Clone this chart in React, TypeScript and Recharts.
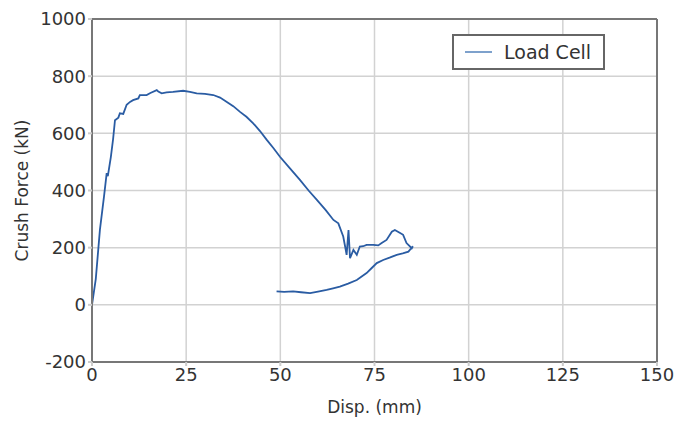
import React from 'react';
import { LineChart, Line, XAxis, YAxis, CartesianGrid, ReferenceLine } from 'recharts';

// displacement (mm) and crush force (kN), in recording order
const dispMm = [
  0, 1.0, 2.1, 3.2, 3.9, 4.2, 5.0, 5.6, 6.1, 7.0, 7.4, 8.3, 9.2, 10.1, 10.9, 12.3, 12.7,
  14.5, 15.5, 17.2, 17.6, 18.5, 19.8, 21.5, 24.2, 26.0, 27.8, 30.0, 32.2, 34.0, 35.8,
  37.5, 39.3, 41.0, 42.8, 44.6, 46.4, 48.2, 49.9, 52.5, 55.2, 57.5, 59.7, 62.0, 64.1,
  65.4, 66.7, 67.2, 67.6, 68.1, 68.5, 69.4, 70.3, 71.1, 72.0, 72.9, 74.7, 76.0, 76.9,
  78.2, 79.6, 80.4, 81.8, 82.6, 83.5, 84.9, 85.2, 84.0, 82.5, 80.9, 79.0, 77.3, 75.6,
  74.2, 72.9, 71.5, 70.3, 68.0, 65.8, 64.0, 62.3, 60.0, 57.9, 55.5, 53.4, 51.0, 49.0,
];
const forceKn = [
  0, 90, 262, 380, 461, 450, 517, 580, 646, 655, 670, 668, 700, 710, 716, 722, 734,
  734, 741, 751, 746, 740, 743, 745, 749, 745, 740, 738, 734, 725, 710,
  695, 675, 658, 635, 608, 577, 548, 518, 478, 437, 400, 367, 332, 297,
  285, 239, 204, 175, 262, 163, 192, 175, 204, 205, 210, 210, 208, 216,
  227, 256, 262, 251, 245, 216, 198, 205, 186, 180, 175, 165, 157, 146,
  128, 111, 98, 87, 74, 64, 58, 52, 46, 41, 44, 47, 45, 47,
];
const xTicks = [0, 25, 50, 75, 100, 125, 150];
const yTicks = [-200, 0, 200, 400, 600, 800, 1000];

const seriesName = 'Load Cell';
const lineColor = '#2a5ca3';
const font = '"DejaVu Sans", sans-serif';

const data = dispMm.map((d, i) => ({ disp: d, force: forceKn[i] }));

// legend box drawn over the plot, top right
const LegendBox = () => (
  <div
    style={{
      position: 'absolute',
      left: 452,
      top: 34,
      width: 153,
      height: 36,
      border: '2px solid #666',
      background: '#fff',
      display: 'flex',
      alignItems: 'center',
      fontFamily: font,
      fontSize: 19,
      color: '#333',
      boxSizing: 'border-box',
    }}
  >
    <span style={{ display: 'inline-block', width: 27, height: 2, background: '#7ea1cc', marginLeft: 11, marginRight: 12 }} />
    <span>{seriesName}</span>
  </div>
);

export default function App() {
  return (
    <div style={{ position: 'absolute', left: 0, top: 0, width: 674, height: 421, background: '#fff' }}>
      <LineChart width={674} height={421} data={data} margin={{ top: 19, right: 17, bottom: 0, left: 0 }}>
        <CartesianGrid stroke="#d2d2d2" strokeWidth={1.5} />
        <XAxis
          dataKey="disp"
          type="number"
          domain={[0, 150]}
          ticks={xTicks}
          stroke="#777"
          strokeWidth={2}
          tickLine={{ stroke: '#ccc' }}
          tickSize={4}
          tick={{ fill: '#333', fontSize: 18, fontFamily: font }}
          height={59}
          label={{ value: 'Disp. (mm)', position: 'insideBottom', offset: 8, style: { fill: '#333', fontSize: 17, fontFamily: font } }}
        />
        <YAxis
          type="number"
          domain={[-200, 1000]}
          ticks={yTicks}
          stroke="#777"
          strokeWidth={2}
          tickLine={{ stroke: '#ccc' }}
          tickSize={4}
          tick={{ fill: '#333', fontSize: 18, fontFamily: font }}
          width={92}
          label={{ value: 'Crush Force (kN)', angle: -90, position: 'insideLeft', offset: 22, style: { textAnchor: 'middle', fill: '#333', fontSize: 17, fontFamily: font } }}
        />
        <ReferenceLine y={1000} stroke="#777" strokeWidth={2} />
        <ReferenceLine x={150} stroke="#777" strokeWidth={2} />
        <Line
          dataKey="force"
          name={seriesName}
          stroke={lineColor}
          strokeWidth={1.8}
          dot={false}
          type="linear"
          isAnimationActive={false}
        />
      </LineChart>
      <LegendBox />
    </div>
  );
}
